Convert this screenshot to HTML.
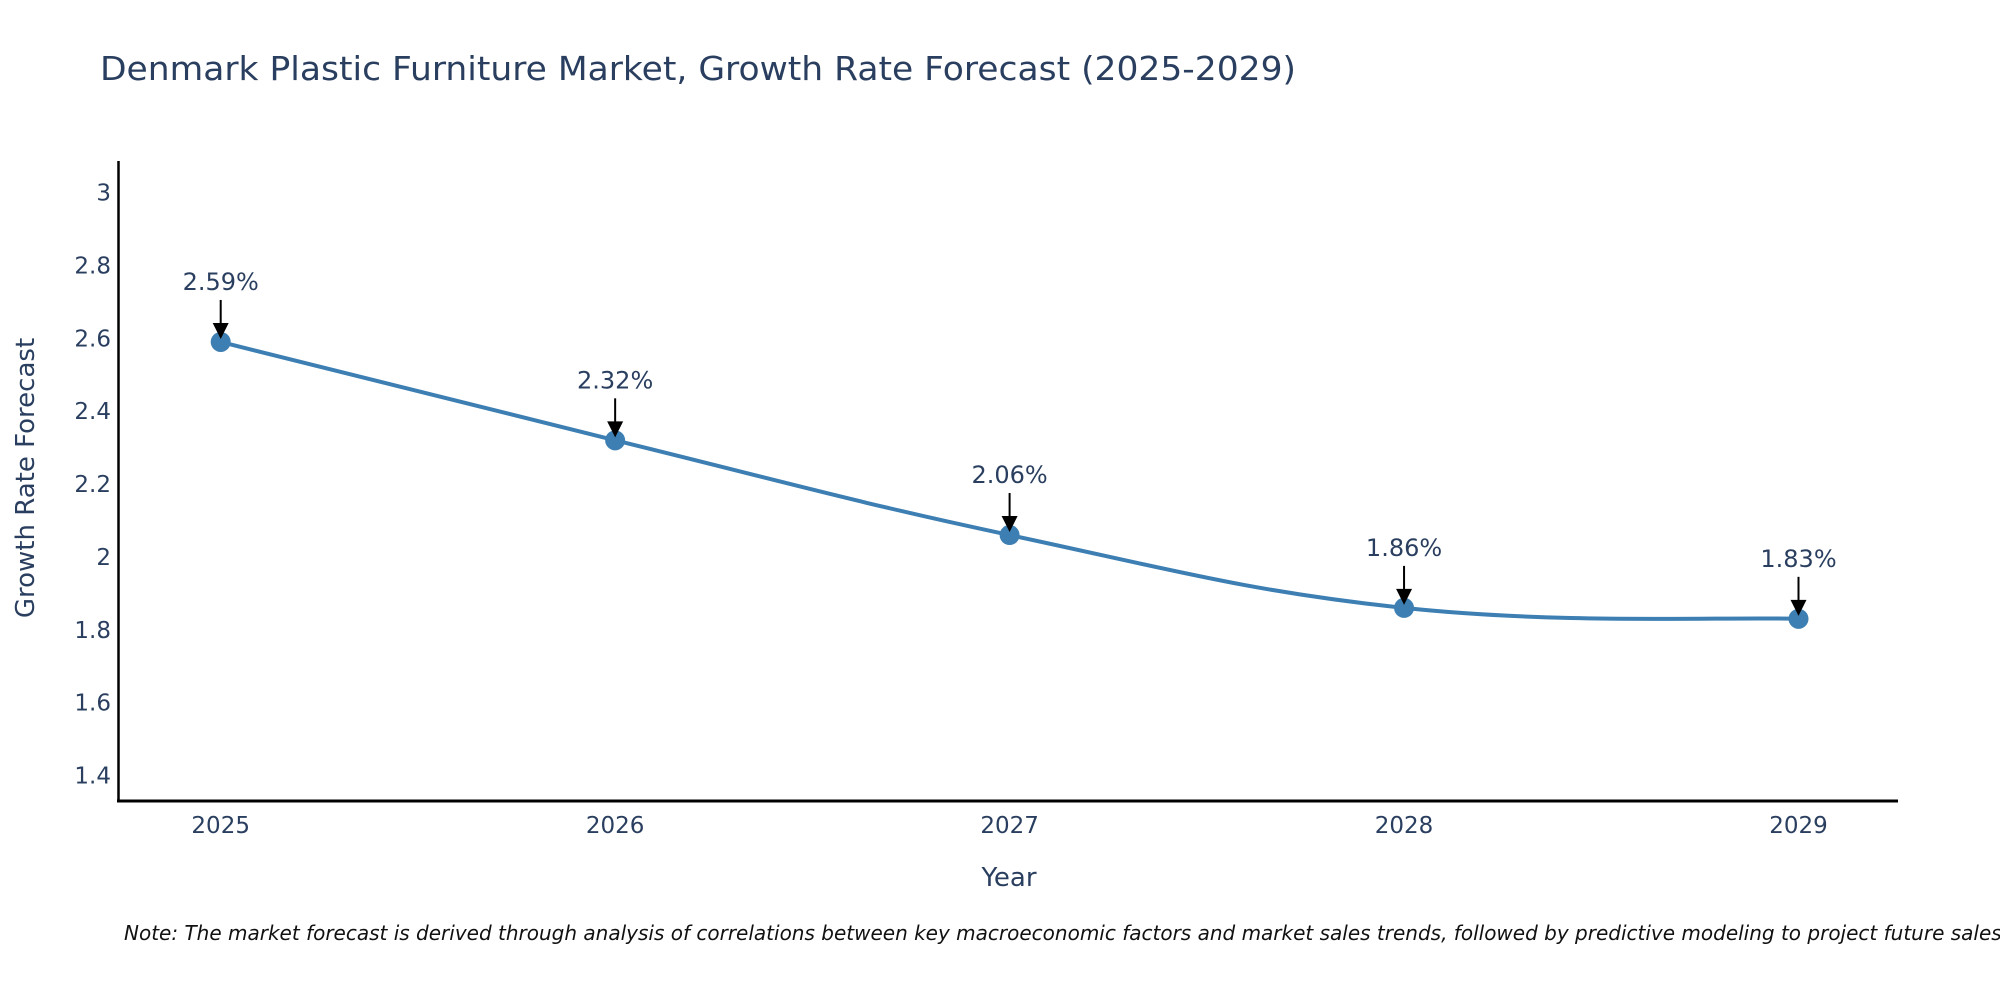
<!DOCTYPE html>
<html><head><meta charset="utf-8">
<style>
html,body{margin:0;padding:0;background:#fff;}
svg{display:block;font-family:"DejaVu Sans","Liberation Sans",sans-serif;}
</style></head>
<body>
<svg id="chart" width="2000" height="1000" viewBox="0 0 2000 1000" xmlns="http://www.w3.org/2000/svg">
<rect width="2000" height="1000" fill="#fff"/>
<text x="100" y="80" font-size="33" fill="#2a3f5f" textLength="1196" lengthAdjust="spacingAndGlyphs">Denmark Plastic Furniture Market, Growth Rate Forecast (2025-2029)</text>
<g id="yticks"></g>
<g id="xticks"></g>
<path id="series-line" fill="none" stroke="#3d7fb3" stroke-width="4"/>
<g id="points"></g>
<g id="annots"></g>
<line x1="118.5" y1="161" x2="118.5" y2="802" stroke="#000" stroke-width="2.5"/>
<line x1="117" y1="801" x2="1898" y2="801" stroke="#000" stroke-width="3"/>
<text x="1009" y="886" font-size="26" fill="#2a3f5f" text-anchor="middle">Year</text>
<text transform="translate(34,478) rotate(-90)" font-size="26" fill="#2a3f5f" text-anchor="middle">Growth Rate Forecast</text>
<text x="124" y="940" font-size="20" font-style="italic" fill="#111">Note: The market forecast is derived through analysis of correlations between key macroeconomic factors and market sales trends, followed by predictive modeling to project future sales.</text>
</svg>
<script>
const years = [2025, 2026, 2027, 2028, 2029];
const values = [2.59, 2.32, 2.06, 1.86, 1.83];
const labels = ["2.59%", "2.32%", "2.06%", "1.86%", "1.83%"];
const yTicks = [1.4, 1.6, 1.8, 2, 2.2, 2.4, 2.6, 2.8, 3];
const yTickLabels = ["1.4", "1.6", "1.8", "2", "2.2", "2.4", "2.6", "2.8", "3"];

const NS = "http://www.w3.org/2000/svg";
function xs(yr){ return 220.7 + (yr - 2025) * 394.45; }
function ys(v){ return 192.6 + (3 - v) / 0.2 * 72.86; }
function mk(tag, attrs, parent){
  const e = document.createElementNS(NS, tag);
  for (const k in attrs) e.setAttribute(k, attrs[k]);
  parent.appendChild(e); return e;
}
const yg = document.getElementById('yticks');
yTicks.forEach((v, i) => {
  const t = mk('text', {x: 111, y: ys(v) + 8, 'font-size': 23, fill: '#2a3f5f', 'text-anchor': 'end'}, yg);
  
  
  t.textContent = yTickLabels[i];
});
const xg = document.getElementById('xticks');
years.forEach(yr => {
  const t = mk('text', {x: xs(yr), y: 833, 'font-size': 23, fill: '#2a3f5f', 'text-anchor': 'middle'}, xg);
  
  
  t.textContent = String(yr);
});
const pts = years.map((yr, i) => [xs(yr), ys(values[i])]);
let d = `M${pts[0][0]},${pts[0][1]}`;
const s = 0.2;
for (let i = 0; i < pts.length - 1; i++) {
  const p0 = pts[Math.max(i - 1, 0)], p1 = pts[i], p2 = pts[i + 1], p3 = pts[Math.min(i + 2, pts.length - 1)];
  const c1 = [p1[0] + (p2[0] - p0[0]) * s, p1[1] + (p2[1] - p0[1]) * s];
  const c2 = [p2[0] - (p3[0] - p1[0]) * s, p2[1] - (p3[1] - p1[1]) * s];
  d += ` C${c1[0]},${c1[1]} ${c2[0]},${c2[1]} ${p2[0]},${p2[1]}`;
}
document.getElementById('series-line').setAttribute('d', d);
const pg = document.getElementById('points');
const ag = document.getElementById('annots');
pts.forEach((p, i) => {
  const c = mk('circle', {cx: p[0], cy: p[1], r: 10, fill: '#3d7fb3'}, pg);
  
  
  const top = p[1] - 42;
  const ln = mk('line', {x1: p[0], y1: top, x2: p[0], y2: p[1] - 14, stroke: '#000', 'stroke-width': 2}, ag);
  
  
  const hd = mk('polygon', {points: `${p[0]-8},${p[1]-19} ${p[0]+8},${p[1]-19} ${p[0]},${p[1]-3}`, fill: '#000'}, ag);
  
  
  const t = mk('text', {x: p[0], y: top - 10, 'font-size': 24, fill: '#2a3f5f', 'text-anchor': 'middle'}, ag);
  
  
  t.textContent = labels[i];
});
</script>
</body></html>
